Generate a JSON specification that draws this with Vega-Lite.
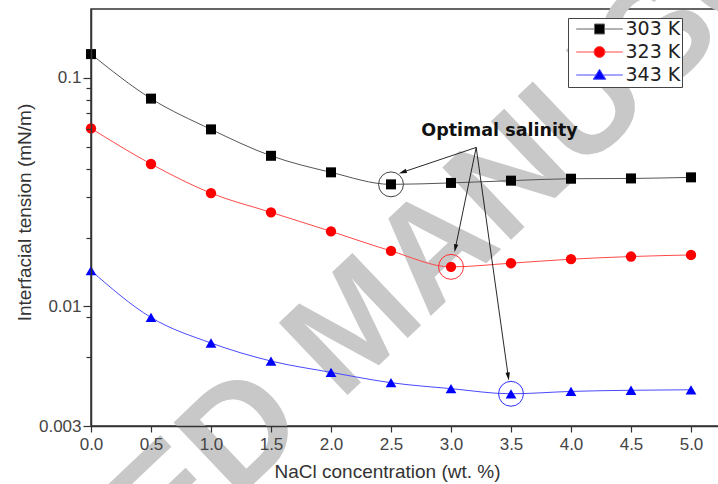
{
  "$schema": "https://vega.github.io/schema/vega-lite/v6.json",
  "width": 630,
  "height": 417,
  "autosize": {"type": "none"},
  "padding": {"left": 91, "top": 9, "right": 0, "bottom": 58},
  "background": "white",
  "config": {
    "view": {"stroke": "#333", "strokeWidth": 1.5},
    "axis": {"grid": false, "domainColor": "#333", "domainWidth": 1.5, "tickColor": "#333", "tickWidth": 1.2, "labelFont": "Liberation Sans", "labelFontSize": 17, "labelColor": "#444", "titleFont": "Liberation Sans", "titleFontSize": 19, "titleFontWeight": "normal", "titleColor": "#333", "labelFlush": false, "labelOverlap": false, "labelBound": false}
  },
  "datasets": {
    "ift": [
      {"T": "303 K", "x": 0.0, "y": 0.127},
      {"T": "303 K", "x": 0.5, "y": 0.0811},
      {"T": "303 K", "x": 1.0, "y": 0.0595},
      {"T": "303 K", "x": 1.5, "y": 0.0456},
      {"T": "303 K", "x": 2.0, "y": 0.0386},
      {"T": "303 K", "x": 2.5, "y": 0.0342},
      {"T": "303 K", "x": 3.0, "y": 0.0347},
      {"T": "303 K", "x": 3.5, "y": 0.0355},
      {"T": "303 K", "x": 4.0, "y": 0.0362},
      {"T": "303 K", "x": 4.5, "y": 0.0363},
      {"T": "303 K", "x": 5.0, "y": 0.0367},
      {"T": "323 K", "x": 0.0, "y": 0.0601},
      {"T": "323 K", "x": 0.5, "y": 0.042},
      {"T": "323 K", "x": 1.0, "y": 0.0313},
      {"T": "323 K", "x": 1.5, "y": 0.0258},
      {"T": "323 K", "x": 2.0, "y": 0.0213},
      {"T": "323 K", "x": 2.5, "y": 0.0175},
      {"T": "323 K", "x": 3.0, "y": 0.0149},
      {"T": "323 K", "x": 3.5, "y": 0.01546},
      {"T": "323 K", "x": 4.0, "y": 0.0161},
      {"T": "323 K", "x": 4.5, "y": 0.01653},
      {"T": "323 K", "x": 5.0, "y": 0.0168},
      {"T": "343 K", "x": 0.0, "y": 0.01435},
      {"T": "343 K", "x": 0.5, "y": 0.00895},
      {"T": "343 K", "x": 1.0, "y": 0.00692},
      {"T": "343 K", "x": 1.5, "y": 0.00577},
      {"T": "343 K", "x": 2.0, "y": 0.00515},
      {"T": "343 K", "x": 2.5, "y": 0.00464},
      {"T": "343 K", "x": 3.0, "y": 0.00437},
      {"T": "343 K", "x": 3.5, "y": 0.00415},
      {"T": "343 K", "x": 4.0, "y": 0.00425},
      {"T": "343 K", "x": 4.5, "y": 0.0043},
      {"T": "343 K", "x": 5.0, "y": 0.00432}
    ],
    "optimum": [
      {"T": "303 K", "x": 2.5, "y": 0.0342},
      {"T": "323 K", "x": 3.0, "y": 0.0149},
      {"T": "343 K", "x": 3.5, "y": 0.00415}
    ],
    "arrows": [
      {"T": "303 K", "x0": 3.21, "y0": 0.0496, "x1": 2.597, "y1": 0.03866},
      {"T": "323 K", "x0": 3.21, "y0": 0.0496, "x1": 3.036, "y1": 0.01796},
      {"T": "343 K", "x0": 3.21, "y0": 0.0496, "x1": 3.477, "y1": 0.00494}
    ],
    "notes": [
      {"label": "Optimal salinity", "x": 3.404, "y": 0.0585}
    ],
    "watermark": [
      {"label": "ACCEPTED MANUSCRIPT", "x": 2.215, "y": 0.00826}
    ]
  },
  "layer": [
    {
      "data": {"name": "watermark"},
      "mark": {"type": "text", "font": "Liberation Sans", "fontWeight": "bold", "fontSize": 145, "color": "#c8c8c8", "angle": 316.5, "align": "center", "baseline": "middle"},
      "encoding": {
        "x": {"field": "x", "type": "quantitative", "scale": {"domain": [0, 5.25], "nice": false, "zero": false}},
        "y": {"field": "y", "type": "quantitative", "scale": {"type": "log", "domain": [0.003, 0.2], "nice": false}},
        "text": {"field": "label"}
      }
    },
    {
      "data": {"name": "ift"},
      "mark": {"type": "line", "interpolate": "monotone", "strokeWidth": 1},
      "encoding": {
        "x": {"field": "x", "type": "quantitative", "scale": {"domain": [0, 5.25], "nice": false, "zero": false},
          "axis": {"zindex": 1, "title": "NaCl concentration (wt. %)", "values": [0, 0.25, 0.5, 0.75, 1, 1.25, 1.5, 1.75, 2, 2.25, 2.5, 2.75, 3, 3.25, 3.5, 3.75, 4, 4.25, 4.5, 4.75, 5],
            "labelExpr": "datum.value % 0.5 == 0 ? format(datum.value, '.1f') : ''",
            "tickSize": {"condition": {"test": "datum.value % 0.5 == 0", "value": 6}, "value": 3},
            "labelPadding": 4, "titleX": 296, "titleY": 51, "titleBaseline": "alphabetic", "titleAlign": "center", "titleAnchor": null}},
        "y": {"field": "y", "type": "quantitative", "scale": {"type": "log", "domain": [0.003, 0.2], "nice": false},
          "axis": {"zindex": 1, "title": "Interfacial tension (mN/m)", "values": [0.003, 0.006, 0.009, 0.01, 0.02, 0.03, 0.04, 0.05, 0.06, 0.07, 0.08, 0.09, 0.1],
            "labelExpr": "(datum.value == 0.003 || datum.value == 0.01 || datum.value == 0.1) ? format(datum.value, '~g') : ''",
            "tickSize": {"condition": {"test": "datum.value == 0.003 || datum.value == 0.01 || datum.value == 0.1", "value": 8}, "value": 5},
            "labelPadding": 2, "titleX": -67, "titleY": 203, "titleAngle": 270, "titleBaseline": "middle", "titleAlign": "center"}},
        "stroke": {"field": "T", "type": "nominal", "scale": {"domain": ["303 K", "323 K", "343 K"], "range": ["#555555", "#ff4a4a", "#4a4aff"]}, "legend": null},
        "detail": {"field": "T"}
      }
    },
    {
      "data": {"name": "ift"},
      "mark": {"type": "point", "filled": true, "opacity": 1, "strokeWidth": 0},
      "encoding": {
        "x": {"field": "x", "type": "quantitative"},
        "y": {"field": "y", "type": "quantitative"},
        "fill": {"field": "T", "type": "nominal", "scale": {"domain": ["303 K", "323 K", "343 K"], "range": ["#000000", "#ff0000", "#0000ff"]}, "legend": null},
        "shape": {"field": "T", "type": "nominal", "scale": {"domain": ["303 K", "323 K", "343 K"], "range": ["square", "circle", "triangle-up"]}, "legend": null},
        "size": {"field": "T", "type": "nominal", "scale": {"domain": ["303 K", "323 K", "343 K"], "range": [100, 115, 130]}, "legend": null}
      }
    },
    {
      "data": {"name": "optimum"},
      "mark": {"type": "point", "shape": "circle", "filled": false, "size": 620, "strokeWidth": 1, "opacity": 1},
      "encoding": {
        "x": {"field": "x", "type": "quantitative"},
        "y": {"field": "y", "type": "quantitative"},
        "stroke": {"field": "T", "type": "nominal", "scale": {"domain": ["303 K", "323 K", "343 K"], "range": ["#444444", "#ff3030", "#3030ff"]}, "legend": null}
      }
    },
    {
      "data": {"name": "arrows"},
      "mark": {"type": "rule", "color": "#111", "strokeWidth": 0.9},
      "encoding": {
        "x": {"field": "x0", "type": "quantitative"},
        "y": {"field": "y0", "type": "quantitative"},
        "x2": {"field": "x1"},
        "y2": {"field": "y1"}
      }
    },
    {
      "data": {"name": "arrows"},
      "mark": {"type": "point", "filled": true, "size": 64, "color": "#111", "opacity": 1, "strokeWidth": 0},
      "encoding": {
        "x": {"field": "x1", "type": "quantitative"},
        "y": {"field": "y1", "type": "quantitative"},
        "shape": {"field": "T", "type": "nominal", "scale": {"domain": ["303 K", "323 K", "343 K"], "range": ["M-0.948,0.318L0.773,-0.839L1.123,0.203Z", "M-0.204,0.979L-0.334,-1.091L0.742,-0.867Z", "M0.139,0.99L-0.684,-0.914L0.406,-1.066Z"]}, "legend": null}
      }
    },
    {
      "data": {"name": "notes"},
      "mark": {"type": "text", "font": "DejaVu Sans", "fontWeight": "bold", "fontSize": 17.5, "color": "#111", "align": "center", "baseline": "middle"},
      "encoding": {
        "x": {"field": "x", "type": "quantitative"},
        "y": {"field": "y", "type": "quantitative"},
        "text": {"field": "label"}
      }
    },
    {
      "data": {"name": "ift"},
      "transform": [{"filter": "datum.x > 100"}],
      "mark": {"type": "point", "filled": true, "opacity": 1, "strokeWidth": 1},
      "encoding": {
        "x": {"field": "x", "type": "quantitative"},
        "y": {"field": "y", "type": "quantitative"},
        "fill": {"field": "T", "type": "nominal", "scale": {"domain": ["303 K", "323 K", "343 K"], "range": ["#000000", "#ff0000", "#0000ff"]},
          "legend": {"orient": "none", "legendX": 477, "legendY": 9, "title": null, "padding": 1.5, "strokeColor": "#444", "fillColor": "white", "labelFont": "DejaVu Sans", "labelFontSize": 19, "labelColor": "#222", "symbolSize": 100, "symbolOffset": 20.5, "labelOffset": 16.5, "rowPadding": 3, "symbolStrokeWidth": 1, "symbolOpacity": 1}},
        "stroke": {"field": "T", "type": "nominal", "scale": {"domain": ["303 K", "323 K", "343 K"], "range": ["#666666", "#ff4a4a", "#4a4aff"]},
          "legend": {"orient": "none", "legendX": 477, "legendY": 9, "title": null, "padding": 1.5, "strokeColor": "#444", "fillColor": "white", "labelFont": "DejaVu Sans", "labelFontSize": 19, "labelColor": "#222", "symbolSize": 100, "symbolOffset": 20.5, "labelOffset": 16.5, "rowPadding": 3, "symbolStrokeWidth": 1, "symbolOpacity": 1}},
        "shape": {"field": "T", "type": "nominal", "scale": {"domain": ["303 K", "323 K", "343 K"], "range": ["M-4.66,0H-1M1,0H4.66M-1,-1H1V1H-1Z", "M-4.66,0H-1.1M1.1,0H4.66M1.1,0A1.1,1.1,0,1,1,-1.1,0A1.1,1.1,0,1,1,1.1,0Z", "M-4.66,0H-0.6M0.6,0H4.66M0,-1.15L1.25,0.85L-1.25,0.85Z"]},
          "legend": {"orient": "none", "legendX": 477, "legendY": 9, "title": null, "padding": 1.5, "strokeColor": "#444", "fillColor": "white", "labelFont": "DejaVu Sans", "labelFontSize": 19, "labelColor": "#222", "symbolSize": 100, "symbolOffset": 20.5, "labelOffset": 16.5, "rowPadding": 3, "symbolStrokeWidth": 1, "symbolOpacity": 1}}
      }
    }
  ],
  "resolve": {
    "scale": {"shape": "independent", "fill": "independent", "stroke": "independent", "size": "independent"},
    "legend": {"shape": "independent", "fill": "independent", "stroke": "independent", "size": "independent"}
  }
}
